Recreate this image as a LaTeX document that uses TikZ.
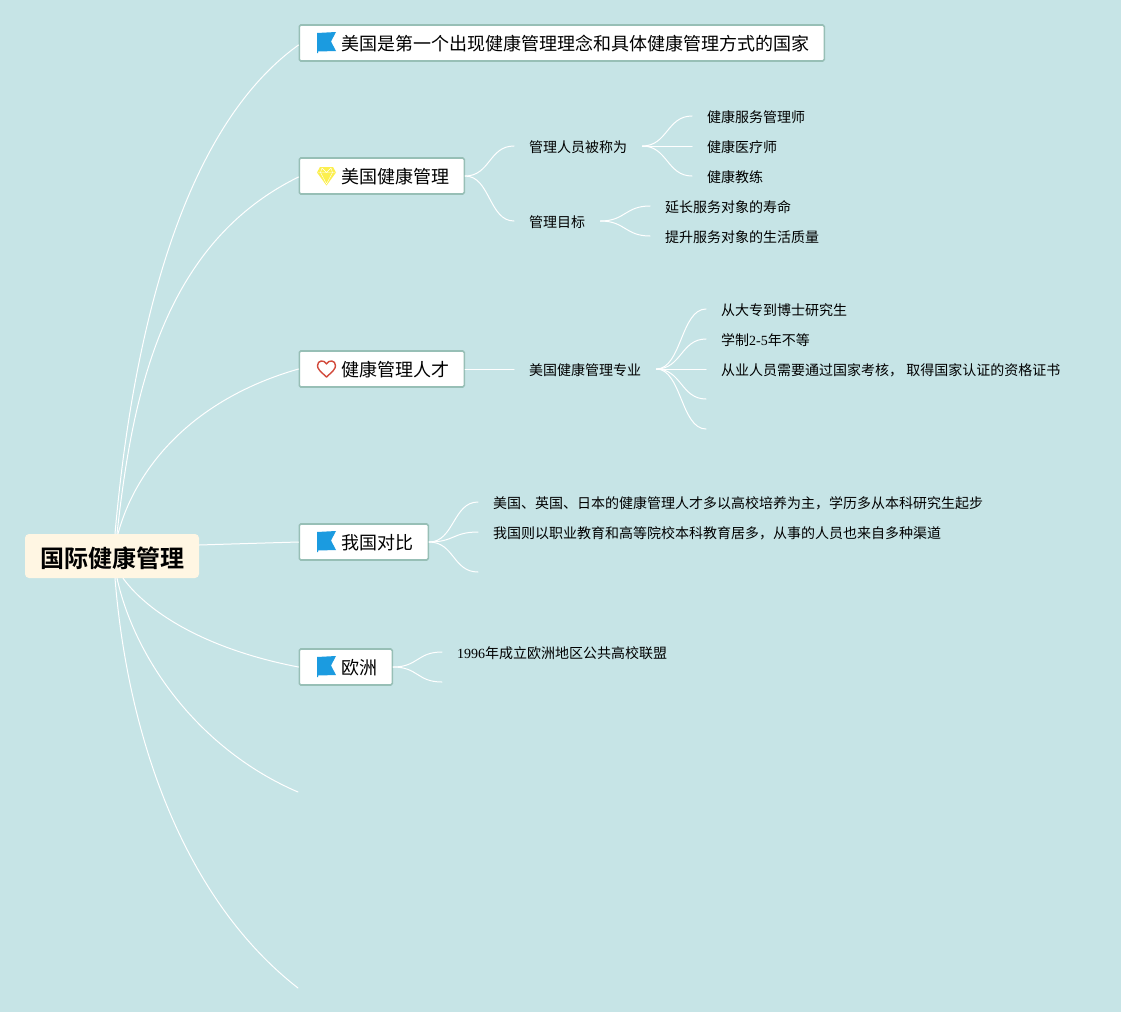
\documentclass[tikz,border=0pt]{standalone}
\usepackage{fontspec}
\setmainfont{Liberation Serif}
\newfontfamily\cjk{Noto Sans CJK SC}
\newfontfamily\cjkb{Noto Sans CJK SC Bold}
\newcommand{\sz}[1]{\fontsize{#1}{#1}\selectfont}
\definecolor{bgc}{HTML}{C6E4E6}
\definecolor{rootc}{HTML}{FFF6E3}
\definecolor{edgec}{HTML}{97BFB6}
\definecolor{flagc}{HTML}{1B9BE0}
\definecolor{gemc}{HTML}{FCEF4E}
\definecolor{heartc}{HTML}{D24A3C}
\tikzset{
  x=1pt,y=-1pt,
  rootbox/.style={draw=none,fill=rootc,rounded corners=4pt,minimum width=174pt,minimum height=44pt,inner sep=0pt,font=\cjkb\sz{24},anchor=center,text height=25pt,text depth=3pt},
  topicbox/.style={draw=edgec,line width=1.6pt,fill=white,rounded corners=1.5pt,minimum height=36pt,inner sep=0pt,anchor=west,font=\cjk\sz{18},align=left,text height=15pt,text depth=3pt},
  leaf/.style={inner sep=0pt,anchor=west,font=\cjk\sz{14}},
  link/.style={draw=white,line width=1pt,line cap=round},
}
\newcommand{\flagicon}[2]{\fill[flagc] (#1,#2) -- ++(19,-1) -- ++(-5,9.5) -- ++(5,9.5) -- ++(-18,0.5) -- ++(0,1.5) -- ++(-1,0) -- cycle;}
\begin{document}
\begin{tikzpicture}
\useasboundingbox (0,0) rectangle (1121,1012);
\fill[bgc] (0,0) rectangle (1121,1012);
% free ends
\coordinate (e1) at (706,399);
\coordinate (e2) at (706,429);
\coordinate (e3) at (478,572);
\coordinate (e4) at (442,682);
\coordinate (e5) at (298,792);
\coordinate (e6) at (298,988);
\node[rootbox] (root) at (112,556) {国际健康管理};
\node[topicbox,minimum width=525pt] (t1) at (298.5,43) {\hspace{28pt}\raisebox{-1.5pt}{美国是第一个出现健康管理理念和具体健康管理方式的国家}};
\node[topicbox,minimum width=165pt] (t2) at (298.5,176) {\hspace{28pt}\raisebox{-1.5pt}{美国健康管理}};
\node[topicbox,minimum width=165pt] (t3) at (298.5,369) {\hspace{28pt}\raisebox{-1.5pt}{健康管理人才}};
\node[topicbox,minimum width=129pt] (t4) at (298.5,542) {\hspace{28pt}\raisebox{-1.5pt}{我国对比}};
\node[topicbox,minimum width=93pt] (t5) at (298.5,667) {\hspace{28pt}\raisebox{-1.5pt}{欧洲}};
% icons
\flagicon{317}{33}
\flagicon{317}{532}
\flagicon{317}{657}
\fill[gemc] (320,167) -- (333,167) -- (336,172.5) -- (326.5,185.5) -- (317,172.5) -- cycle;
\draw[white,line width=0.4pt] (317.5,172.5) -- (335.5,172.5) (322,168) -- (320.5,172.5) -- (326.5,184) -- (332.5,172.5) -- (331,168) (322,168) -- (326.5,172.5) -- (331,168);
\draw[heartc,line width=1.4pt,line join=round] (326.5,377) .. controls (320,371) and (317.5,369) .. (317.5,365.5) .. controls (317.5,360) and (324.5,359.5) .. (326.5,364) .. controls (328.5,359.5) and (335.5,360) .. (335.5,365.5) .. controls (335.5,369) and (333,371) .. (326.5,377) -- cycle;
% leaves
\node[leaf] (a1) at (529,147) {管理人员被称为};
\node[leaf] (a2) at (529,222) {管理目标};
\node[leaf] (b1) at (707,117) {健康服务管理师};
\node[leaf] (b2) at (707,147) {健康医疗师};
\node[leaf] (b3) at (707,177) {健康教练};
\node[leaf] (c1) at (665,207) {延长服务对象的寿命};
\node[leaf] (c2) at (665,237) {提升服务对象的生活质量};
\node[leaf] (d0) at (529,370) {美国健康管理专业};
\node[leaf] (d1) at (721,310) {从大专到博士研究生};
\node[leaf] (d2) at (721,340) {学制{\rmfamily\sz{14}2-5}年不等};
\node[leaf] (d3) at (721,370) {从业人员需要通过国家考核， 取得国家认证的资格证书};
\node[leaf] (f1) at (493,503) {美国、英国、日本的健康管理人才多以高校培养为主，学历多从本科研究生起步};
\node[leaf] (f2) at (493,533) {我国则以职业教育和高等院校本科教育居多，从事的人员也来自多种渠道};
\node[leaf] (g1) at (457,653) {{\rmfamily\sz{14}1996}年成立欧洲地区公共高校联盟};
% root links
\draw[link] ([xshift=3pt]root.north) .. controls (132,340) and (180,130) .. ([yshift=-2pt]t1.west);
\draw[link] ([xshift=5pt]root.north) .. controls (132,400) and (160,245) .. ([yshift=-1pt]t2.west);
\draw[link] ([xshift=6pt]root.north) .. controls (135,470) and (190,400) .. (t3.west);
\draw[link] ([yshift=11pt]root.east) .. controls (230,544) and (265,543) .. (t4.west);
\draw[link] ([xshift=11pt]root.south) .. controls (150,615) and (210,650) .. (t5.west);
\draw[link] ([xshift=5pt]root.south) .. controls (135,660) and (200,750) .. (e5);
\draw[link] ([xshift=3pt]root.south) .. controls (128,740) and (185,900) .. (e6);
% branch links
\tikzset{fan/.style={link,to path={.. controls ([xshift=25pt]\tikztostart) and ([xshift=-25pt]\tikztotarget) .. (\tikztotarget)}}}
\draw[fan] (t2.east) to ([shift={(-15,-1)}]a1.west);
\draw[fan] (t2.east) to ([shift={(-15,-1)}]a2.west);
\draw[fan] ([shift={(15,-1)}]a1.east) to ([shift={(-15,-1)}]b1.west);
\draw[fan] ([shift={(15,-1)}]a1.east) to ([shift={(-15,-1)}]b2.west);
\draw[fan] ([shift={(15,-1)}]a1.east) to ([shift={(-15,-1)}]b3.west);
\draw[fan] ([shift={(15,-1)}]a2.east) to ([shift={(-15,-1)}]c1.west);
\draw[fan] ([shift={(15,-1)}]a2.east) to ([shift={(-15,-1)}]c2.west);
\draw[fan] (t3.east) to ([shift={(-15,-1)}]d0.west);
\draw[fan] ([shift={(15,-1)}]d0.east) to ([shift={(-15,-1)}]d1.west);
\draw[fan] ([shift={(15,-1)}]d0.east) to ([shift={(-15,-1)}]d2.west);
\draw[fan] ([shift={(15,-1)}]d0.east) to ([shift={(-15,-1)}]d3.west);
\draw[fan] ([shift={(15,-1)}]d0.east) to (e1);
\draw[fan] ([shift={(15,-1)}]d0.east) to (e2);
\draw[fan] (t4.east) to ([shift={(-15,-1)}]f1.west);
\draw[fan] (t4.east) to ([shift={(-15,-1)}]f2.west);
\draw[fan] (t4.east) to (e3);
\draw[fan] (t5.east) to ([shift={(-15,-1)}]g1.west);
\draw[fan] (t5.east) to (e4);
\end{tikzpicture}
\end{document}
